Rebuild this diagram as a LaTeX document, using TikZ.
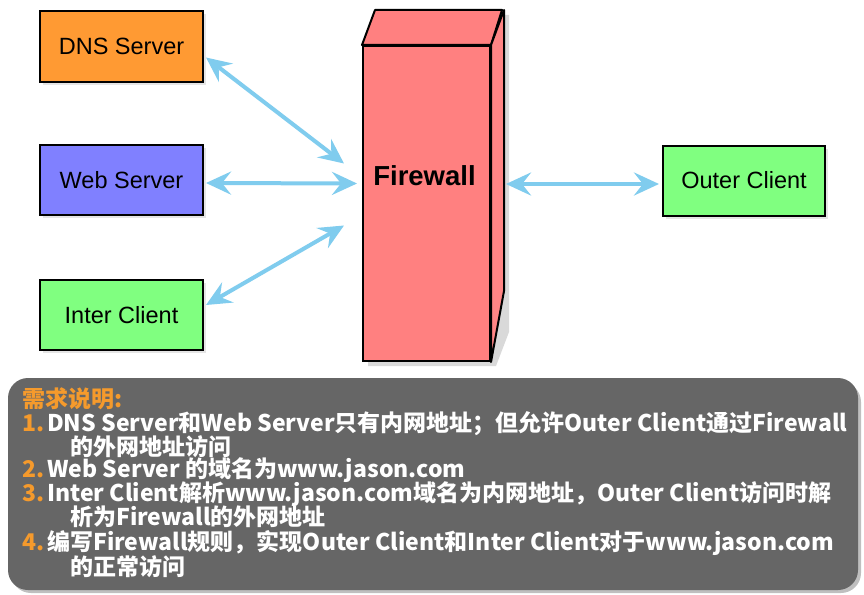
\documentclass[tikz,border=0pt]{standalone}
\usepackage{fontspec}
\setmainfont{Liberation Sans}
\newfontfamily\cjk{Noto Sans CJK SC}
\usetikzlibrary{arrows.meta,shadows,calc}
\definecolor{dnsorange}{HTML}{FF9A33}
\definecolor{webblue}{HTML}{8080FF}
\definecolor{clientgreen}{HTML}{80FF80}
\definecolor{fwred}{HTML}{FF8080}
\definecolor{fwside}{HTML}{FF8585}
\definecolor{arrowblue}{HTML}{80CCEE}
\definecolor{panelgray}{HTML}{666666}
\definecolor{numorange}{HTML}{F59A2C}
\begin{document}
\begin{tikzpicture}[x=1pt,y=-1pt,
  box/.style={draw=black,line width=2pt,minimum width=163pt,minimum height=70pt,
    inner sep=0pt,font=\fontsize{23.5}{26}\selectfont,
    drop shadow={opacity=0.2,shadow xshift=3pt,shadow yshift=-3pt}},
  link/.style={draw=arrowblue,line width=4pt,
    {Stealth[length=25pt,width=23pt,inset=9pt]}-{Stealth[length=25pt,width=23pt,inset=9pt]}},
  num/.style={anchor=base west,inner sep=0pt,text=numorange,font=\cjk\bfseries\fontsize{23}{24}\selectfont},
  txt/.style={anchor=base west,inner sep=0pt,text=white,font=\cjk\bfseries\fontsize{23}{24}\selectfont}]
\useasboundingbox (0,0) rectangle (864,594);
\fill[white] (0,0) rectangle (864,594);
% nodes
\node[box,fill=dnsorange] (dns) at (121.5,46.5) {DNS Server};
\node[box,fill=webblue] (web) at (121.5,180) {Web Server};
\node[box,fill=clientgreen] (inter) at (121.5,315) {Inter Client};
\node[box,fill=clientgreen,minimum width=162pt] (outer) at (744,180.5) {Outer Client};
% firewall
\fill[black,opacity=0.15] (368,50) -- (381,15) -- (509,15) -- (509,332) -- (496,366) -- (368,366) -- cycle;
\node[draw=black,line width=2pt,fill=fwred,minimum width=127pt,minimum height=315pt,inner sep=0pt] (fw) at (426.5,203.5) {};
\draw[line width=2pt,fill=fwred,line join=round] (fw.north west) -- ++(13,-35) -- ++(127,0) -- (fw.north east) -- cycle;
\draw[line width=2pt,fill=fwside,line join=round] (fw.north east) -- ++(13,-35) -- ++(0,281) -- (fw.south east) -- cycle;
\node[font=\bfseries\fontsize{27.5}{30}\selectfont,inner sep=0pt] (fwl) at (424.5,176) {Firewall};
% connectors
\coordinate (a1) at ($(dns.east)+(2,11)$);
\coordinate (b1) at ($(fw.west)+(-18,-40)$);
\coordinate (a2) at ($(web.east)+(2,3)$);
\coordinate (b2) at ($(fw.west)+(-5,-20)$);
\coordinate (a3) at ($(inter.east)+(2,-10)$);
\coordinate (b3) at ($(fw.west)+(-18,22)$);
\coordinate (a4) at ($(fw.east)+(15,-19.5)$);
\coordinate (b4) at ($(outer.west)+(-3,3.5)$);
\draw[link] (a1) -- (b1);
\draw[link] (a2) -- (b2);
\draw[link] (a3) -- (b3);
\draw[link] (a4) -- (b4);
% panel
\fill[black,opacity=0.25,rounded corners=20pt] (11,382) rectangle (861,593);
\fill[panelgray,rounded corners=20pt] (8,378) rectangle (858,590);
\node[num] (h) at (22,407) {需求说明:};
\node[num] (n1) at (22,431) {1.};
\node[txt] (t1) at (47,431) {DNS Server和Web Server只有内网地址；但允许Outer Client通过Firewall};
\node[txt] (t1b) at (70,455) {的外网地址访问};
\node[num] (n2) at (22,477) {2.};
\node[txt] (t2) at (47,477) {Web Server 的域名为www.jason.com};
\node[num] (n3) at (22,501) {3.};
\node[txt] (t3) at (47,501) {Inter Client解析www.jason.com域名为内网地址，Outer Client访问时解};
\node[txt] (t3b) at (70,525) {析为Firewall的外网地址};
\node[num] (n4) at (22,550) {4.};
\node[txt] (t4) at (47,550) {编写Firewall规则，实现Outer Client和Inter Client对于www.jason.com};
\node[txt] (t4b) at (70,575) {的正常访问};
\end{tikzpicture}
\end{document}
